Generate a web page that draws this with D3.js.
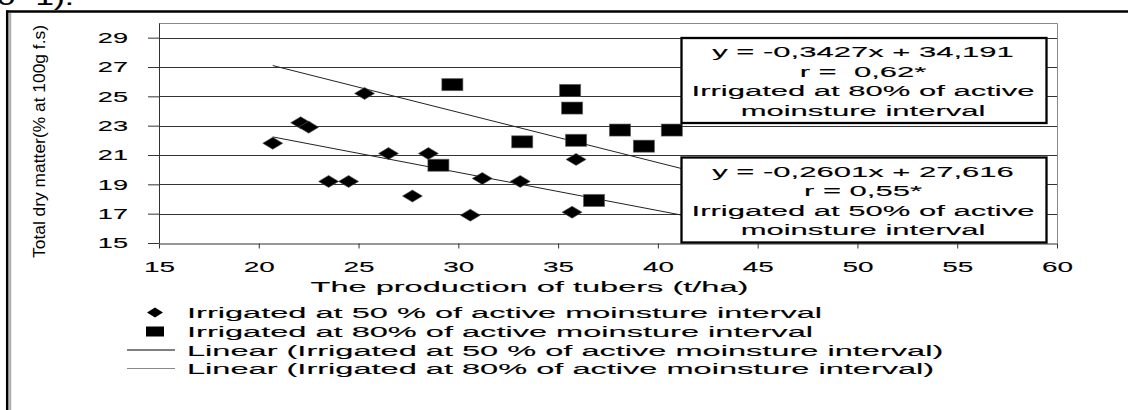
<!DOCTYPE html>
<html>
<head>
<meta charset="utf-8">
<script src="https://d3js.org/d3.v7.min.js"></script>
<style>
  body { margin: 0; background: #fff; }
  svg { display: block; font-family: "Liberation Sans", Arial, sans-serif; }
  text { white-space: pre; }
</style>
</head>
<body>
<svg id="chart" width="1128" height="410"></svg>
<script>
// Irrigated at 50 % (diamonds)
const x50 = [20.7, 22.1, 22.5, 23.5, 24.5, 25.3, 26.5, 27.7, 28.5, 30.6, 31.2, 33.1, 35.7, 35.9];
const y50 = [21.8, 23.2, 22.9, 19.2, 19.2, 25.2, 21.1, 18.2, 21.1, 16.9, 19.4, 19.2, 17.1, 20.7];
// Irrigated at 80 % (squares)
const x80 = [29.0, 29.7, 33.2, 35.6, 35.7, 35.9, 36.8, 38.1, 39.3, 40.7];
const y80 = [20.3, 25.8, 21.9, 25.4, 24.2, 22.0, 17.9, 22.7, 21.6, 22.7];
// trendlines, as printed on the chart: [50 %, 80 %]
const slopes = [-0.2601, -0.3427];
const intercepts = [27.616, 34.191];
const trendX = [20.7, 42];
const xTicks = [15, 20, 25, 30, 35, 40, 45, 50, 55, 60];
const yTicks = [15, 17, 19, 21, 23, 25, 27, 29];
const box80 = ["y = -0,3427x + 34,191", "r =  0,62*", "Irrigated at 80% of active", "moinsture interval"];
const box50 = ["y = -0,2601x + 27,616", "r = 0,55*", "Irrigated at 50% of active", "moinsture interval"];
const legendLabels = [
  "Irrigated at 50 % of active moinsture interval",
  "Irrigated at 80% of active moinsture interval",
  "Linear (Irrigated at 50 % of active moinsture interval)",
  "Linear (Irrigated at 80% of active moinsture interval)"
];

const svg = d3.select("#chart");
const x = d3.scaleLinear().domain([15, 60]).range([159, 1057]);
const y = d3.scaleLinear().domain([15, 30]).range([243, 23]);

// the picture is stretched sideways, so the text is too
function stretch(sel, k) {
  sel.each(function () {
    const w = this.getComputedTextLength();
    d3.select(this).attr("textLength", w * k).attr("lengthAdjust", "spacingAndGlyphs")
      .attr("stroke", "#000").attr("stroke-width", 0.12);
  });
}

// page frame
svg.append("text").attr("x", -3).attr("y", 5).attr("font-size", 22).text("0 -1).")
  .call(stretch, 1.5);
svg.append("line").attr("x1", 6).attr("x2", 1128).attr("y1", 11.5).attr("y2", 11.5)
  .attr("stroke", "#000").attr("stroke-width", 2.5);
svg.append("line").attr("x1", 7.2).attr("x2", 7.2).attr("y1", 10.5).attr("y2", 410)
  .attr("stroke", "#000").attr("stroke-width", 2.5);
svg.append("line").attr("x1", 10.2).attr("x2", 10.2).attr("y1", 13).attr("y2", 410)
  .attr("stroke", "#aaa").attr("stroke-width", 2);

// gridlines
svg.append("g").selectAll("line")
  .data(yTicks.slice(1))
  .join("line")
  .attr("x1", x(15)).attr("x2", x(60))
  .attr("y1", d => Math.round(y(d)) + 0.5).attr("y2", d => Math.round(y(d)) + 0.5)
  .attr("stroke", "#333");

// plot frame top/right
svg.append("path")
  .attr("d", `M${x(15)},${y(30) + 0.5}H${x(60) + 0.5}V${y(15)}`)
  .attr("fill", "none").attr("stroke", "#888");

// axes
const xAxis = svg.append("g").attr("transform", `translate(0,${y(15) + 0.5})`)
  .call(d3.axisBottom(x).tickValues(xTicks).tickSize(5).tickSizeOuter(0));
const yAxis = svg.append("g").attr("transform", `translate(${x(15)},0)`)
  .call(d3.axisLeft(y).tickValues(yTicks).tickSize(11).tickSizeOuter(0));
[xAxis, yAxis].forEach(a => {
  a.attr("font-family", null).attr("font-size", null);
  a.selectAll("line, path").attr("stroke", "#333");
  a.selectAll("text").attr("font-size", 15.5).attr("fill", "#000");
});
xAxis.selectAll("text").attr("y", 28).attr("dy", null).call(stretch, 1.8);
yAxis.selectAll("text").attr("x", -31).call(stretch, 1.75);

// axis titles
svg.append("text").attr("x", 529.5).attr("y", 292).attr("text-anchor", "middle")
  .attr("font-size", 15.5).text("The production of tubers (t/ha)").call(stretch, 2.1);
svg.append("text").attr("transform", "translate(45,141.5) rotate(-90)")
  .attr("text-anchor", "middle").attr("font-size", 17)
  .text("Total dry matter(% at 100g f.s)")
  .attr("textLength", 233).attr("lengthAdjust", "spacingAndGlyphs");

// trendlines
const trend = svg.append("g");
slopes.forEach((s, i) => {
  trend.append("line")
    .attr("x1", x(trendX[0])).attr("y1", y(s * trendX[0] + intercepts[i]))
    .attr("x2", x(trendX[1])).attr("y2", y(s * trendX[1] + intercepts[i]))
    .attr("stroke", "#222").attr("stroke-width", 1);
});

// markers
const diamond = (cx, cy, w, h) => `M${cx - w / 2},${cy}L${cx},${cy - h / 2}L${cx + w / 2},${cy}L${cx},${cy + h / 2}Z`;
svg.append("g").selectAll("path")
  .data(d3.zip(x50, y50))
  .join("path")
  .attr("d", d => diamond(x(d[0]), y(d[1]), 20, 12))
  .attr("fill", "#000").attr("stroke", "#555").attr("stroke-opacity", 0.6);
svg.append("g").selectAll("rect")
  .data(d3.zip(x80, y80))
  .join("rect")
  .attr("x", d => x(d[0]) - 10.5).attr("y", d => y(d[1]) - 6)
  .attr("width", 21).attr("height", 12)
  .attr("fill", "#000").attr("stroke", "#555").attr("stroke-opacity", 0.6);

// equation boxes
function eqBox(lines, top) {
  const g = svg.append("g");
  g.append("rect").attr("x", 681.5).attr("y", top).attr("width", 365).attr("height", 85)
    .attr("fill", "#fff").attr("stroke", "#000").attr("stroke-width", 2.3);
  g.selectAll("text").data(lines).join("text")
    .attr("x", 863).attr("y", (d, i) => top + 19 + i * 19.5)
    .attr("text-anchor", "middle").attr("font-size", 15.5)
    .text(d => d).call(stretch, 2.0);
}
eqBox(box80, 38);
eqBox(box50, 157.5);

// legend
const rowY = [312.5, 331.5, 350, 368.5];
const leg = svg.append("g");
leg.append("path").attr("d", diamond(155, rowY[0], 16, 10)).attr("fill", "#000");
leg.append("rect").attr("x", 146).attr("y", rowY[1] - 5).attr("width", 18).attr("height", 10).attr("fill", "#000");
leg.append("line").attr("x1", 127).attr("x2", 175).attr("y1", rowY[2]).attr("y2", rowY[2]).attr("stroke", "#000");
leg.append("line").attr("x1", 127).attr("x2", 175).attr("y1", rowY[3]).attr("y2", rowY[3]).attr("stroke", "#888");
leg.selectAll("text").data(legendLabels).join("text")
  .attr("x", 187).attr("y", (d, i) => rowY[i] + 5.5)
  .attr("font-size", 15.5).text(d => d).call(stretch, 2.1);
</script>
</body>
</html>
